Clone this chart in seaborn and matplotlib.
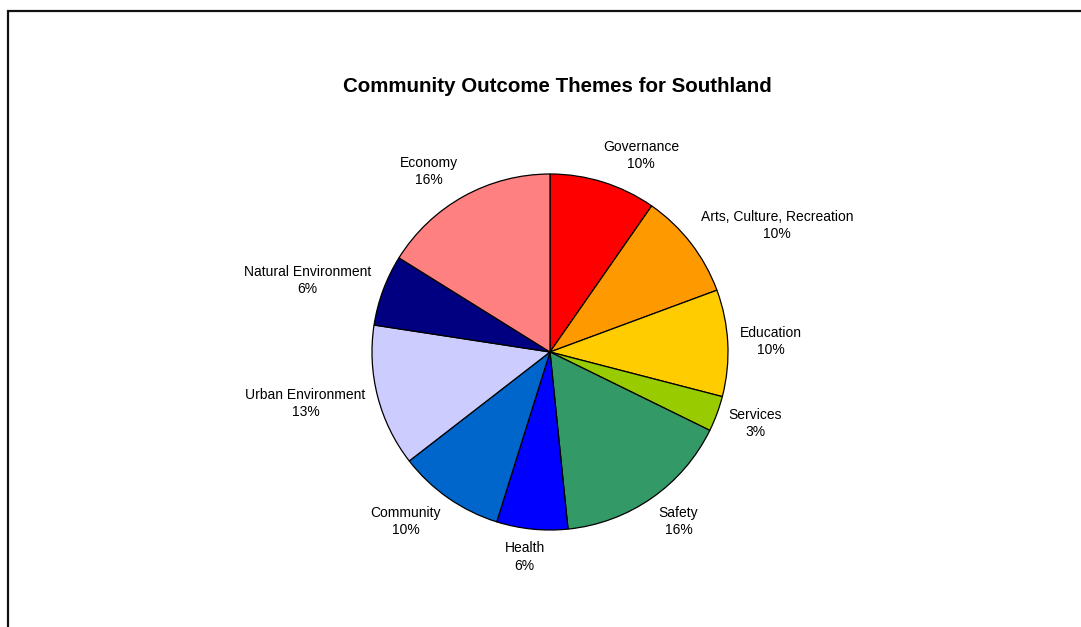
import numpy as np
import matplotlib
matplotlib.use("Agg")
import matplotlib.pyplot as plt
import matplotlib.patches as mpatches
import seaborn as sns

# Number of community outcomes per theme
themes = ["Governance", "Arts, Culture, Recreation", "Education", "Services",
          "Safety", "Health", "Community", "Urban Environment",
          "Natural Environment", "Economy"]
counts = [3, 3, 3, 1, 5, 2, 3, 4, 2, 5]
theme_colors = ["#FF0000", "#FF9900", "#FFCC00", "#99CC00", "#339966",
                "#0000FF", "#0066CC", "#CCCCFF", "#000080", "#FF8080"]

sns.set_theme(style="white")
plt.rcParams["font.family"] = ["Liberation Sans", "DejaVu Sans"]
plt.rcParams["text.color"] = "black"

W, H = 1081, 627
fig = plt.figure(figsize=(W / 100, H / 100), dpi=100)
fig.patch.set_facecolor("white")

# Pie centred at (550, 352) px with radius 178 px
R = 178
cx, cy = 550, H - 352
half = 1.5 * R
ax = fig.add_axes([(cx - half) / W, (cy - half) / H, 2 * half / W, 2 * half / H])
palette = sns.color_palette(theme_colors)

wedges, _ = ax.pie(counts, colors=palette, startangle=90, counterclock=False,
                   wedgeprops=dict(edgecolor="black", linewidth=0.9))
ax.set_xlim(-1.5, 1.5)
ax.set_ylim(-1.5, 1.5)
ax.set_aspect("equal")
ax.axis("off")

# Two-line labels (name + percentage) placed just outside each wedge,
# pushed outward so the text box clears the pie edge.
total = sum(counts)
fig.canvas.draw()
renderer = fig.canvas.get_renderer()
for wedge, name, c in zip(wedges, themes, counts):
    ang = np.deg2rad((wedge.theta1 + wedge.theta2) / 2)
    ux, uy = np.cos(ang), np.sin(ang)
    pct = round(100 * c / total)
    t = ax.text(0, 0, f"{name}\n{pct}%", ha="center", va="center",
                fontsize=10, color="black", linespacing=1.3,
                multialignment="center")
    bb = t.get_window_extent(renderer)
    anchor = ax.transData.transform((1.07 * ux, 1.07 * uy))
    px = anchor[0] + bb.width / 2 * np.clip(3 * ux, -1, 1)
    py = anchor[1] + bb.height / 2 * uy
    t.set_position(ax.transData.inverted().transform((px, py)))

fig.text(557 / W, 1 - 86 / H, "Community Outcome Themes for Southland",
         ha="center", va="center", fontsize=14.8, fontweight="bold",
         color="black")

# Chart area border
frame = mpatches.Rectangle((8 / W, -0.1), 1.2, (H - 11) / H + 0.1,
                           transform=fig.transFigure, fill=False,
                           edgecolor="#111111", linewidth=1.6, clip_on=False)
fig.patches.append(frame)

fig.savefig("out.png", dpi=100, facecolor="white")
